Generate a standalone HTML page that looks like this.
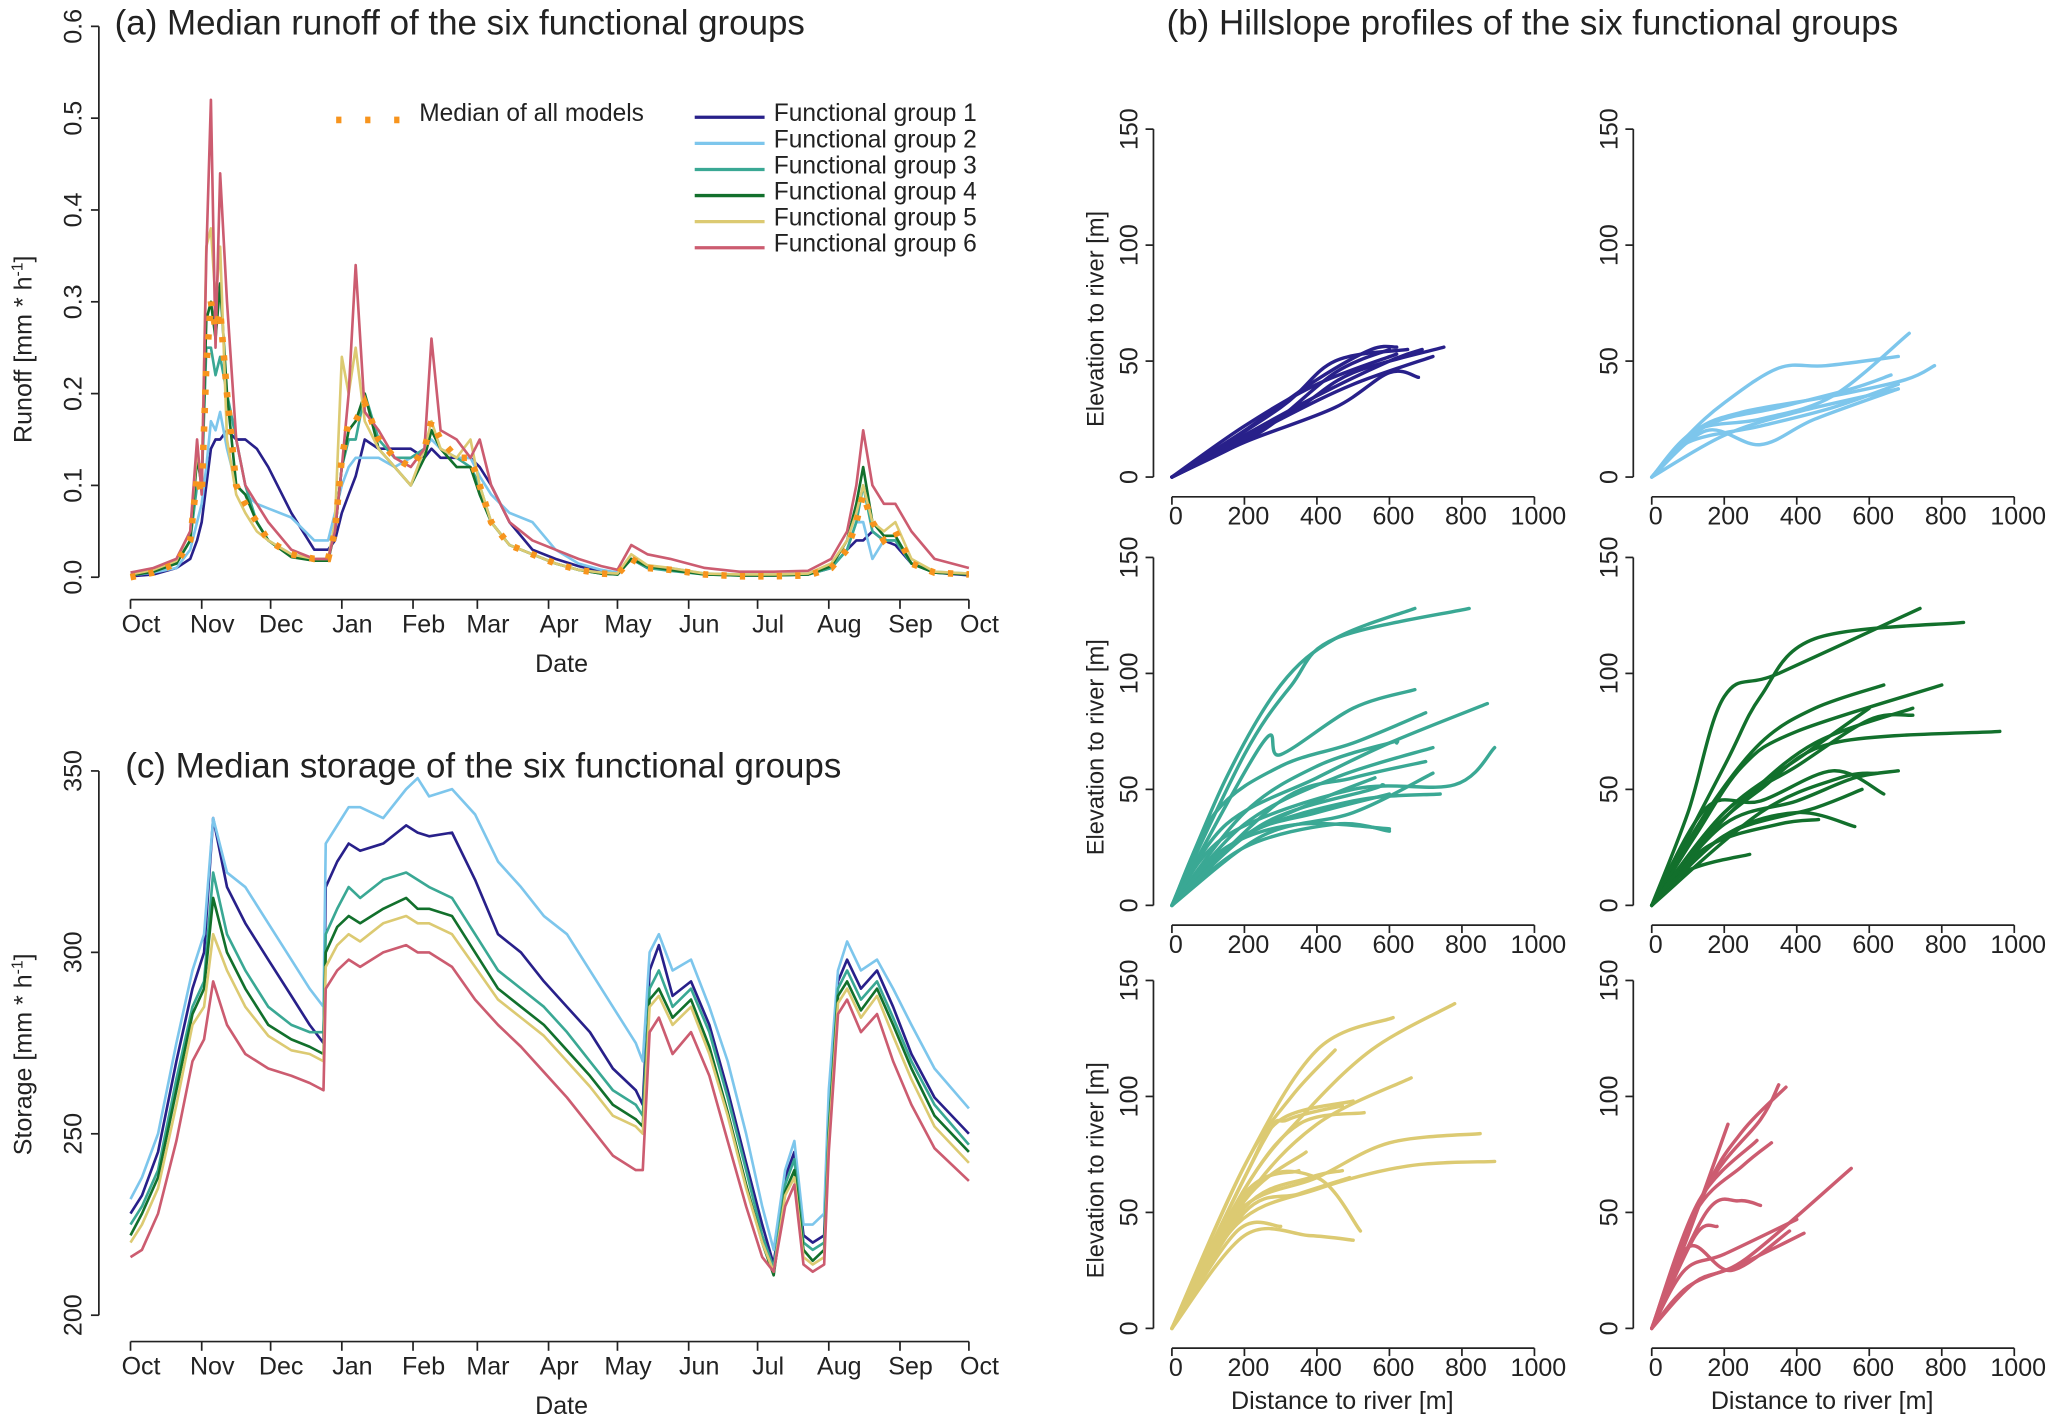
<!DOCTYPE html>
<html><head><meta charset="utf-8"><style>
html,body{margin:0;padding:0;background:#fff}
svg{display:block}
text{font-family:"Liberation Sans",sans-serif;fill:#222}
</style></head><body>
<svg id="fig" xmlns="http://www.w3.org/2000/svg" width="2067" height="1418" viewBox="0 0 1568 1076" preserveAspectRatio="none">
<text x="87" y="26" font-size="26.5">(a) Median runoff of the six functional groups</text>
<text x="95" y="590" font-size="26.5">(c) Median storage of the six functional groups</text>
<text x="885" y="26" font-size="26.5">(b) Hillslope profiles of the six functional groups</text>
<g id="gA"></g>
<g id="gC"></g>
<g id="gB"></g>
</svg>
<script>
// ---------- data ----------
const monthLabels=["Oct","Nov","Dec","Jan","Feb","Mar","Apr","May","Jun","Jul","Aug","Sep","Oct"];
const monthDays=[0,31,61,92,123,151,182,212,243,273,304,335,365];
const runoffTicks=[0,0.1,0.2,0.3,0.4,0.5,0.6];
const storageTicks=[200,250,300,350];
const groupNames=["Functional group 1","Functional group 2","Functional group 3","Functional group 4","Functional group 5","Functional group 6"];
const colors=["#28208a","#7dc6ec","#3aa894","#12702c","#dcca72","#cc5c70"];
const runoffDays=[0,10,20,26,29,31,33,35,37,39,42,46,50,55,60,70,80,86,89,92,95,98,102,108,115,122,128,131,135,142,148,152,157,165,175,185,195,205,212,218,225,235,250,265,280,295,305,312,316,319,323,328,333,340,350,365];
const runoffG1=[.001,.003,.01,.02,.04,.06,.1,.14,.15,.15,.16,.15,.15,.14,.12,.07,.03,.03,.04,.07,.09,.11,.15,.14,.14,.14,.13,.14,.13,.13,.13,.12,.1,.06,.03,.02,.012,.006,.003,.02,.01,.008,.004,.002,.002,.003,.01,.03,.04,.04,.05,.04,.035,.015,.005,.002];
const runoffG2=[.002,.005,.01,.03,.06,.08,.12,.17,.16,.18,.14,.1,.09,.08,.075,.065,.04,.04,.07,.1,.12,.13,.13,.13,.12,.13,.14,.15,.14,.13,.13,.11,.09,.07,.06,.03,.015,.008,.005,.02,.012,.01,.004,.003,.003,.004,.01,.03,.06,.06,.02,.04,.04,.015,.006,.004];
const runoffG3=[.002,.006,.015,.04,.1,.1,.25,.25,.22,.24,.2,.15,.1,.06,.04,.025,.02,.02,.05,.12,.15,.15,.2,.15,.13,.13,.14,.16,.14,.13,.12,.1,.06,.035,.025,.015,.008,.004,.003,.02,.01,.007,.003,.002,.002,.003,.01,.03,.06,.1,.05,.04,.04,.015,.005,.003];
const runoffG4=[.002,.006,.015,.04,.13,.1,.28,.3,.26,.32,.2,.1,.09,.06,.04,.022,.018,.018,.05,.12,.16,.17,.2,.14,.12,.1,.13,.16,.14,.12,.12,.09,.06,.035,.025,.015,.008,.004,.003,.02,.012,.008,.003,.002,.002,.003,.012,.04,.08,.12,.06,.045,.045,.015,.005,.003];
const runoffG5=[.003,.008,.018,.05,.14,.1,.36,.38,.3,.36,.15,.09,.07,.05,.04,.025,.02,.02,.06,.24,.2,.25,.17,.14,.12,.1,.14,.17,.14,.13,.15,.1,.06,.035,.025,.015,.008,.005,.004,.025,.013,.01,.004,.003,.003,.004,.015,.04,.07,.1,.06,.05,.06,.02,.006,.004];
const runoffG6=[.005,.01,.02,.05,.15,.09,.35,.52,.25,.44,.3,.15,.1,.08,.06,.03,.02,.02,.05,.12,.2,.34,.18,.16,.13,.12,.14,.26,.16,.15,.13,.15,.1,.06,.04,.03,.02,.012,.008,.035,.025,.02,.01,.006,.006,.007,.02,.05,.1,.16,.1,.08,.08,.05,.02,.01];
const runoffMedian=[0,.005,.015,.04,.11,.09,.23,.3,.27,.29,.2,.1,.08,.06,.04,.025,.02,.02,.05,.13,.17,.17,.19,.15,.13,.12,.14,.17,.15,.13,.13,.1,.06,.035,.025,.015,.008,.004,.003,.02,.01,.008,.003,.001,.001,.002,.01,.03,.06,.09,.06,.04,.05,.015,.005,.003];
const storageDays=[0,5,12,20,27,32,36,42,50,60,70,78,84,85,90,95,100,110,120,125,130,140,150,160,170,180,190,200,210,220,223,226,230,236,244,252,260,268,275,280,285,289,293,297,302,304,308,312,318,325,332,340,350,365];
const storageG1=[228,233,245,270,290,300,337,318,308,298,288,280,275,318,325,330,328,330,335,333,332,333,320,305,300,292,285,278,268,262,258,295,302,288,292,280,262,242,225,214,238,245,222,220,222,255,292,298,290,295,285,272,260,250];
const storageG2=[232,238,250,275,295,305,337,322,318,308,298,290,285,330,335,340,340,337,345,348,343,345,338,325,318,310,305,295,285,275,270,300,305,295,298,285,270,250,230,218,240,248,225,225,228,262,295,303,295,298,290,280,268,257];
const storageG3=[225,230,240,265,285,292,322,305,295,285,280,278,278,305,312,318,315,320,322,320,318,315,305,295,290,285,278,270,262,258,255,290,295,285,290,278,260,240,222,213,236,243,220,218,220,252,290,295,287,292,282,270,258,247];
const storageG4=[222,228,238,262,283,290,315,300,290,280,276,274,272,300,307,310,308,312,315,312,312,310,300,290,285,280,273,266,258,254,252,287,290,282,287,274,256,236,220,211,234,240,218,215,218,250,288,292,284,290,280,268,255,245];
const storageG5=[220,225,235,258,280,285,305,295,285,277,273,272,270,296,302,305,303,308,310,308,308,305,296,287,282,277,270,263,255,252,250,285,288,280,285,272,255,235,220,212,233,238,216,214,216,248,286,290,282,288,277,265,252,242];
const storageG6=[216,218,228,248,270,276,292,280,272,268,266,264,262,290,295,298,296,300,302,300,300,296,287,280,274,267,260,252,244,240,240,278,282,272,278,266,248,230,216,212,230,236,214,212,214,245,283,287,278,283,270,258,246,237];
const hillTicksX=[0,200,400,600,800,1000];
const hillTicksY=[0,50,100,150];
const profilesG1=[[[0,0],[200,20],[400,42],[550,55],[620,56]],[[0,0],[150,12],[350,30],[500,45],[750,56]],[[0,0],[200,18],[400,35],[600,50],[690,55]],[[0,0],[250,20],[450,45],[600,55]],[[0,0],[200,15],[450,30],[600,45],[680,43]],[[0,0],[300,30],[450,50],[650,55]],[[0,0],[200,22],[400,40],[620,53]],[[0,0],[100,8],[300,25],[500,40],[720,52]]];
const profilesG2=[[[0,0],[100,18],[200,32],[350,47],[480,48],[680,52]],[[0,0],[120,20],[250,28],[500,35],[700,42],[780,48]],[[0,0],[150,20],[300,14],[450,25],[680,38]],[[0,0],[120,20],[300,25],[500,35],[710,62]],[[0,0],[100,15],[300,22],[500,30],[680,40]],[[0,0],[200,18],[400,28],[680,38]],[[0,0],[150,22],[350,30],[550,38],[660,44]]];
const profilesG3=[[[0,0],[150,55],[300,95],[450,115],[670,128]],[[0,0],[200,65],[330,95],[450,115],[820,128]],[[0,0],[250,70],[300,65],[500,85],[670,93]],[[0,0],[120,40],[300,60],[500,70],[700,83]],[[0,0],[150,35],[400,55],[600,70],[870,87]],[[0,0],[200,40],[400,60],[600,70],[620,70]],[[0,0],[200,35],[450,55],[720,68]],[[0,0],[150,30],[500,50],[780,52],[890,68]],[[0,0],[200,30],[500,45],[740,48]],[[0,0],[200,30],[400,40],[600,48]],[[0,0],[150,25],[350,35],[600,33]],[[0,0],[200,25],[450,35],[600,32]],[[0,0],[250,30],[500,40],[720,57]],[[0,0],[180,28],[400,45],[560,55]],[[0,0],[300,45],[500,55],[700,62]],[[0,0],[250,35],[550,50],[580,52]]];
const profilesG4=[[[0,0],[100,40],[200,90],[350,100],[740,128]],[[0,0],[200,60],[300,90],[450,115],[860,122]],[[0,0],[150,40],[300,70],[450,85],[640,95]],[[0,0],[120,30],[250,60],[400,75],[800,95]],[[0,0],[150,30],[300,50],[500,70],[960,75]],[[0,0],[200,40],[400,60],[600,80],[720,82]],[[0,0],[100,20],[250,45],[450,70],[720,85]],[[0,0],[150,42],[300,45],[500,58],[640,48]],[[0,0],[200,35],[400,45],[560,55],[680,58]],[[0,0],[200,30],[400,40],[560,34]],[[0,0],[150,25],[350,35],[460,37]],[[0,0],[200,30],[450,42],[580,50]],[[0,0],[100,15],[270,22]],[[0,0],[300,40],[520,55],[620,57]],[[0,0],[200,40],[420,65],[600,85]]];
const profilesG5=[[[0,0],[200,70],[400,120],[610,134]],[[0,0],[200,60],[350,90],[550,120],[780,140]],[[0,0],[200,70],[330,100],[450,120]],[[0,0],[200,65],[300,90],[500,98]],[[0,0],[200,60],[350,88],[530,93]],[[0,0],[200,55],[400,88],[660,108]],[[0,0],[180,50],[400,65],[600,80],[850,84]],[[0,0],[180,45],[400,60],[650,70],[890,72]],[[0,0],[200,40],[380,40],[500,38]],[[0,0],[180,42],[300,44]],[[0,0],[200,55],[370,76]],[[0,0],[200,58],[350,68]],[[0,0],[200,52],[380,65],[470,68]],[[0,0],[220,60],[400,65],[520,42]],[[0,0],[200,50],[350,58],[490,65]],[[0,0],[250,80],[320,90],[470,96]]];
const profilesG6=[[[0,0],[150,60],[250,85],[370,104]],[[0,0],[150,60],[300,90],[350,105]],[[0,0],[100,40],[210,88]],[[0,0],[130,55],[290,81]],[[0,0],[120,50],[250,70],[330,80]],[[0,0],[150,50],[240,55],[300,53]],[[0,0],[100,35],[220,25],[380,42]],[[0,0],[120,20],[260,30],[550,69]],[[0,0],[100,18],[250,28],[420,41]],[[0,0],[120,40],[180,44]],[[0,0],[90,25],[200,32],[400,47]]];

// ---------- helpers ----------
const NS="http://www.w3.org/2000/svg";
function mk(parent,tag,attrs,txt){const e=document.createElementNS(NS,tag);for(const k in attrs)e.setAttribute(k,attrs[k]);if(txt!==undefined)e.textContent=txt;parent.appendChild(e);return e;}
const xDay=d=>99+d*(735-99)/365;
function poly(xs,ys){return xs.map((x,i)=>(i?"L":"M")+x.toFixed(1)+","+ys[i].toFixed(1)).join("");}
function smooth(pts){let d="M"+pts[0][0].toFixed(1)+","+pts[0][1].toFixed(1);for(let i=0;i<pts.length-1;i++){const p0=pts[Math.max(0,i-1)],p1=pts[i],p2=pts[i+1],p3=pts[Math.min(pts.length-1,i+2)];const c1=[p1[0]+(p2[0]-p0[0])/6,p1[1]+(p2[1]-p0[1])/6],c2=[p2[0]-(p3[0]-p1[0])/6,p2[1]-(p3[1]-p1[1])/6];d+="C"+c1[0].toFixed(1)+","+c1[1].toFixed(1)+" "+c2[0].toFixed(1)+","+c2[1].toFixed(1)+" "+p2[0].toFixed(1)+","+p2[1].toFixed(1);}return d;}
function dateAxis(g,yLine){
  mk(g,"line",{x1:xDay(0),x2:xDay(365),y1:yLine,y2:yLine,stroke:"#222","stroke-width":1.3});
  monthDays.forEach((d,i)=>{
    const t=mk(g,"line",{x1:xDay(d),x2:xDay(d),y1:yLine,y2:yLine+7,stroke:"#222","stroke-width":1.3});
    
    
    const l=mk(g,"text",{x:xDay(d)+8,y:yLine+25,"font-size":19,"text-anchor":"middle"},monthLabels[i]);
    
    
  });
  const tt=mk(g,"text",{x:426,y:yLine+55,"font-size":19,"text-anchor":"middle"},"Date");
  
  
}
function yAxis(g,ticks,yf,xLine,labX,fmt){
  mk(g,"line",{x1:xLine,x2:xLine,y1:yf(ticks[0]),y2:yf(ticks[ticks.length-1]),stroke:"#222","stroke-width":1.3});
  ticks.forEach(v=>{
    const t=mk(g,"line",{x1:xLine-6,x2:xLine,y1:yf(v),y2:yf(v),stroke:"#222","stroke-width":1.3});
    
    
    const l=mk(g,"text",{x:labX,y:yf(v),"font-size":19,"text-anchor":"middle",transform:`rotate(-90 ${labX} ${yf(v)})`},fmt(v));
    
    
  });
}

// ---------- panel a ----------
(function(){
  const g=document.getElementById("gA");
  const yR=v=>438-v*(438-20)/0.6;
  yAxis(g,runoffTicks,yR,75,62,v=>v.toFixed(1));
  dateAxis(g,455);
  const yt=mk(g,"text",{x:24,y:265,"font-size":19,"text-anchor":"middle",transform:"rotate(-90 24 265)"},"Runoff [mm * h");
  
  
  mk(yt,"tspan",{"font-size":12,dy:-7},"-1");
  mk(yt,"tspan",{dy:7},"]");
  const series=[runoffG1,runoffG2,runoffG3,runoffG4,runoffG5,runoffG6];
  series.forEach((s,i)=>{
    const p=mk(g,"path",{d:poly(runoffDays.map(xDay),s.map(yR)),fill:"none",stroke:colors[i],"stroke-width":2,"stroke-linejoin":"round"});
    
    
  });
  const m=mk(g,"path",{d:poly(runoffDays.map(xDay),runoffMedian.map(yR)),fill:"none",stroke:"#f7941d","stroke-width":5,"stroke-dasharray":"4 10"});
  
  
  // legend
  const lg=mk(g,"g",{});
  
  
  mk(lg,"line",{x1:255,x2:305,y1:91,y2:91,stroke:"#f7941d","stroke-width":5,"stroke-dasharray":"4 18"});
  mk(lg,"text",{x:318,y:92,"font-size":18.6},"Median of all models");
  groupNames.forEach((n,i)=>{
    const y=89+i*19.8;
    const e=mk(lg,"g",{});
    
    
    mk(e,"line",{x1:527,x2:580,y1:y,y2:y,stroke:colors[i],"stroke-width":2.5});
    mk(e,"text",{x:587,y:y+3,"font-size":18.6},n);
  });
})();

// ---------- panel c ----------
(function(){
  const g=document.getElementById("gC");
  const yS=v=>998-(v-200)*(998-585)/150;
  yAxis(g,storageTicks,yS,75,62,v=>String(v));
  dateAxis(g,1018);
  const yt=mk(g,"text",{x:24,y:800,"font-size":19,"text-anchor":"middle",transform:"rotate(-90 24 800)"},"Storage [mm * h");
  
  
  mk(yt,"tspan",{"font-size":12,dy:-7},"-1");
  mk(yt,"tspan",{dy:7},"]");
  const series=[storageG1,storageG2,storageG3,storageG4,storageG5,storageG6];
  series.forEach((s,i)=>{
    const p=mk(g,"path",{d:poly(storageDays.map(xDay),s.map(yS)),fill:"none",stroke:colors[i],"stroke-width":2,"stroke-linejoin":"round"});
    
    
  });
})();

// ---------- panel b ----------
(function(){
  const g=document.getElementById("gB");
  const all=[profilesG1,profilesG2,profilesG3,profilesG4,profilesG5,profilesG6];
  const colX0=[889,1253], rowY0=[362,687,1008];
  const sx=275/1000, sy=(362-98)/150;
  all.forEach((prof,k)=>{
    const col=k%2,row=Math.floor(k/2);
    const x0=colX0[col],y0=rowY0[row];
    const fx=v=>x0+v*sx, fy=v=>y0-v*sy;
    const pg=mk(g,"g",{});
    
    
    const axX=x0-14;
    mk(pg,"line",{x1:axX,x2:axX,y1:fy(0),y2:fy(150),stroke:"#222","stroke-width":1.3});
    hillTicksY.forEach(v=>{
      mk(pg,"line",{x1:axX-6,x2:axX,y1:fy(v),y2:fy(v),stroke:"#222","stroke-width":1.3});
      const l=mk(pg,"text",{x:axX-12,y:fy(v),"font-size":19,"text-anchor":"middle",transform:`rotate(-90 ${axX-12} ${fy(v)})`},String(v));
      
      
    });
    const axY=y0+15;
    mk(pg,"line",{x1:fx(0),x2:fx(1000),y1:axY,y2:axY,stroke:"#222","stroke-width":1.3});
    hillTicksX.forEach(v=>{
      mk(pg,"line",{x1:fx(v),x2:fx(v),y1:axY,y2:axY+6,stroke:"#222","stroke-width":1.3});
      const l=mk(pg,"text",{x:fx(v)+3,y:axY+21,"font-size":19,"text-anchor":"middle"},String(v));
      
      
    });
    if(col===0){
      const cy=(fy(0)+fy(150))/2+12;
      const t=mk(pg,"text",{x:837,y:cy,"font-size":18,"text-anchor":"middle",transform:`rotate(-90 837 ${cy})`},"Elevation to river [m]");
      
      
    }
    if(row===2){
      const t=mk(pg,"text",{x:fx(470),y:1069,"font-size":19,"text-anchor":"middle"},"Distance to river [m]");
      
      
    }
    prof.forEach(c=>{
      const p=mk(pg,"path",{d:smooth(c.map(q=>[fx(q[0]),fy(q[1])])),fill:"none",stroke:colors[k],"stroke-width":2.6,"stroke-linecap":"round"});
      
      
    });
  });
})();
</script>
</body></html>
